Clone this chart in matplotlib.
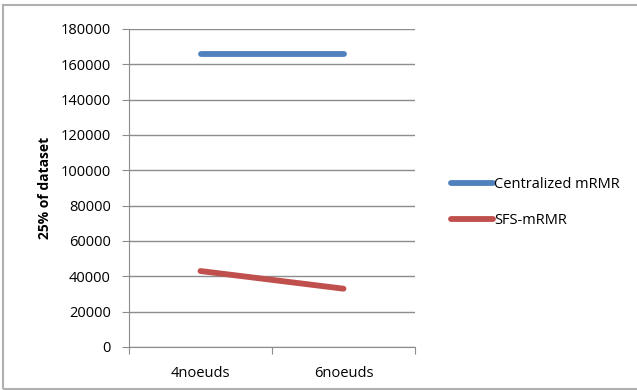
import matplotlib.pyplot as plt
from matplotlib.patches import Rectangle

# Data
categories = ['4noeuds', '6noeuds']
centralized = [166000, 166000]
sfs = [43000, 33000]
y_ticks = list(range(0, 180001, 20000))

plt.rcParams['font.family'] = ['Open Sans', 'DejaVu Sans']

fig = plt.figure(figsize=(6.37, 3.9), dpi=100)
ax = fig.add_axes([129 / 637, 43 / 390, 286 / 637, 318 / 390])

x = range(len(categories))
ax.plot(x, centralized, color='#4f81bd', lw=4.2, solid_capstyle='round', label='Centralized mRMR')
ax.plot(x, sfs, color='#c0504d', lw=4.2, solid_capstyle='round', label='SFS-mRMR')

ax.set_xlim(-0.5, 1.5)
ax.set_ylim(0, 180000)
ax.set_yticks(y_ticks)
ax.set_yticklabels([str(v) for v in y_ticks], fontsize=10.5)
ax.yaxis.grid(True, color='#8c8c8c', lw=1)
ax.set_axisbelow(True)

ax.set_xticks([-0.5, 0.5, 1.5])
ax.set_xticklabels([])
ax.set_xticks(list(x), minor=True)
ax.set_xticklabels(categories, minor=True, fontsize=10.5)
ax.tick_params(axis='x', which='minor', length=0, pad=14)
ax.tick_params(axis='x', which='major', length=5, color='#8c8c8c')
ax.tick_params(axis='y', length=5, color='#8c8c8c', pad=8)

for side in ['top', 'right']:
    ax.spines[side].set_visible(False)
for side in ['left', 'bottom']:
    ax.spines[side].set_color('#8c8c8c')

ax.set_ylabel('25% of dataset', fontsize=10, fontweight='bold', labelpad=6)

leg = fig.legend(loc='upper left', bbox_to_anchor=(438 / 637, 1 - 164 / 390),
                 frameon=False, fontsize=10.5, handlelength=2.9, handletextpad=0.05,
                 labelspacing=1.45)

# outer chart border
fig.patches.append(Rectangle((3 / 637, 1 / 390), 1.0, 384 / 390, transform=fig.transFigure,
                             fill=False, edgecolor='#b0b0b0', lw=1.5))

fig.savefig('out.png', dpi=100)
